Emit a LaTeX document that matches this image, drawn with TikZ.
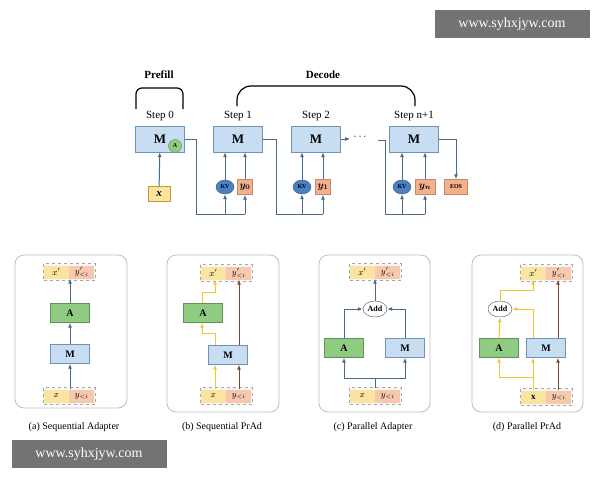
\documentclass[tikz,border=0pt]{standalone}
\usepackage{amsmath,amssymb}
\usepackage{fontspec}
\setmainfont{Liberation Serif}
\usetikzlibrary{arrows.meta,positioning,shapes.geometric}
\definecolor{mblue}{HTML}{C6DDF2}
\definecolor{mbord}{HTML}{6F93B8}
\definecolor{agreen}{HTML}{8FCB80}
\definecolor{ayell}{HTML}{FBE3A0}
\definecolor{asalm}{HTML}{F3B08A}
\definecolor{kvblue}{HTML}{4C80C2}
\definecolor{flowc}{HTML}{4A6A88}
\definecolor{ygold}{HTML}{F2C530}
\definecolor{brwn}{HTML}{7A4636}
\tikzset{
    mbox/.style = {draw=mbord, fill=mblue, minimum width=49pt, minimum height=26pt, font=\fontsize{13}{13}\bfseries},
    sbox/.style = {draw=mbord, fill=mblue, minimum width=39pt, minimum height=19pt, font=\fontsize{10}{10}\bfseries},
    abox/.style = {draw=agreen!70!black, fill=agreen, minimum width=39pt, minimum height=19pt, font=\fontsize{10}{10}\bfseries},
    half/.style = {minimum width=25pt, minimum height=13pt, inner sep=0pt, font=\fontsize{9}{9}\bfseries\itshape},
    tok/.style = {draw=asalm!80!black, fill=asalm, minimum width=15pt, minimum height=15pt, inner sep=0pt, font=\fontsize{10}{10}\bfseries\itshape},
    kv/.style = {ellipse, fill=kvblue, draw=kvblue!70!black, minimum width=18pt, minimum height=14pt, inner sep=0pt, font=\fontsize{6}{6}\bfseries},
    addnode/.style = {ellipse, draw=black!70, fill=white, minimum width=24pt, minimum height=16pt, inner sep=0pt, font=\fontsize{8}{8}\bfseries},
    panel/.style = {draw=black!25, rounded corners=9pt, line width=0.8pt},
    plain/.style = {draw=flowc, line width=1pt},
    flow/.style = {draw=flowc, line width=1pt, -{Latex[length=5pt,width=4pt]}},
    yflow/.style = {draw=ygold, line width=1pt, -{Latex[length=5pt,width=4pt]}},
    bflow/.style = {draw=brwn, line width=1pt, -{Latex[length=5pt,width=4pt]}},
    steplab/.style = {font=\fontsize{11}{11}\selectfont},
    capt/.style = {font=\fontsize{10}{10}\selectfont},
    wmark/.style = {fill=black!55, text=white, minimum width=155pt, minimum height=28pt, font=\fontsize{14}{14}\selectfont}
}
% dashed pair box: name, centre x, centre y, left text, right text
\newcommand{\pairbox}[5]{%
    \draw[black!35, dashed, fill=black!3] (#2-26,#3-8.5) rectangle (#2+26,#3+8.5);
    \node[half, fill=ayell, anchor=east] (#1l) at (#2,#3) {#4};
    \node[half, fill=asalm!70, anchor=west] (#1r) at (#2,#3) {#5};
}
\begin{document}
\begin{tikzpicture}[x=1pt, y=-1pt]
    \useasboundingbox (0,0) rectangle (600,480);
    \fill[white] (0,0) rectangle (600,480);
    
    \node[wmark] (wm1) at (512,24) {www.syhxjyw.com};
    \node[wmark] (wm2) at (89,454) {www.syhxjyw.com};
    
    % top: prefill and decode
    \node[font=\fontsize{11}{11}\bfseries] (prefill) at (159,75) {Prefill};
    \node[font=\fontsize{11}{11}\bfseries] (decode) at (323,75) {Decode};
    \draw[line width=1.2pt, rounded corners=6pt] (136,109) -- (136,88) -- (183,88) -- (183,109);
    \draw[line width=1.2pt, rounded corners=14pt] (237,106) -- (237,86) -- (415,86) -- (415,106);
    
    \node[mbox] (m0) at (160,139) {M\hspace{6pt}};
    \node[mbox] (m1) at (238,139) {M};
    \node[mbox] (m2) at (316,139) {M};
    \node[mbox] (mn) at (414,139) {M};
    \node[circle, fill=agreen, draw=agreen!70!black, minimum size=13pt, inner sep=0pt, font=\fontsize{6}{6}\bfseries] (a0) at (175,146) {A};
    \node[steplab, above=1pt of m0] (s0) {Step 0};
    \node[steplab, above=1pt of m1] (s1) {Step 1};
    \node[steplab, above=1pt of m2] (s2) {Step 2};
    \node[steplab, above=1pt of mn] (sn) {Step n+1};
    
    \node[draw=ygold!80!black, fill=ayell, minimum width=22pt, minimum height=15pt, font=\fontsize{11}{11}\bfseries\itshape] (x0) at (159,194) {x};
    \node[kv] (kv1) at (225,187) {KV};
    \node[tok] (y0) at (245,187) {$\boldsymbol{y_0}$};
    \node[kv] (kv2) at (302,187) {KV};
    \node[tok] (y1) at (323,187) {$\boldsymbol{y_1}$};
    \node[kv] (kvn) at (402,187) {KV};
    \node[tok, minimum width=20pt] (yn) at (425,187) {$\boldsymbol{y_n}$};
    \node[tok, minimum width=23pt, font=\fontsize{6}{6}\bfseries] (eos) at (456,187) {EOS};
    \node[font=\fontsize{11}{11}\selectfont] (dots) at (361,137) {$\cdots$};
    
    \draw[flow] (x0) -- (m0);
    \foreach \k/\t/\m in {kv1/y0/m1, kv2/y1/m2, kvn/yn/mn} {
        \draw[flow] (\k) -- (\k |- \m.south);
        \draw[flow] (\t) -- (\t |- \m.south);
    } %end foreach
    \draw[plain] (m0.east) -- ++(12,0) |- (y0 |- 0,214);
    \draw[plain] (m1.east) -- ++(14,0) |- (y1 |- 0,214);
    \draw[plain] (dots.east) ++(6,3) -- ++(8,0) |- (yn |- 0,214);
    \foreach \k/\t in {kv1/y0, kv2/y1, kvn/yn} {
        \draw[flow] (\k |- 0,214) -- (\k);
        \draw[flow] (\t |- 0,214) -- (\t);
    } %end foreach
    \draw[flow] (m2.east) -- (dots.west |- m2.east);
    \draw[flow] (mn.east) -| (eos.north);
    
    % panels
    \draw[panel] (15,255) rectangle (127,408);
    \draw[panel] (167,255) rectangle (279,412);
    \draw[panel] (319,255) rectangle (430,412);
    \draw[panel] (472,255) rectangle (583,412);
    \node[capt] (ca) at (74,427) {(a) Sequential Adapter};
    \node[capt] (cb) at (222,427) {(b) Sequential PrAd};
    \node[capt] (cc) at (373,427) {(c) Parallel Adapter};
    \node[capt] (cd) at (527,427) {(d) Parallel PrAd};
    
    % (a)
    \pairbox{ta}{69}{272}{$x'$}{$y'_{<i}$}
    \pairbox{ba}{69}{396}{$x$}{$y_{<i}$}
    \node[abox] (aa) at (70,313) {A};
    \node[sbox] (ma) at (70,354) {M};
    \draw[flow] (ma.north) -- (aa.south);
    \draw[flow] (aa.north) -- (aa.north |- tal.south);
    \draw[flow] (ma.south |- bal.north) -- (ma.south);
    
    % (b)
    \pairbox{tb}{226}{273}{$x'$}{$y'_{<i}$}
    \pairbox{bb}{226}{396}{$x$}{$y_{<i}$}
    \node[abox] (ab) at (203,313) {A};
    \node[sbox] (mb) at (228,355) {M};
    \draw[yflow] (bbl.north -| 215,0) -- (mb.south -| 215,0);
    \draw[yflow] (mb.north -| 215,0) |- (202,333) -- (ab.south -| 202,0);
    \draw[yflow] (ab.north -| 202,0) |- (215,292) -- (tbl.south -| 215,0);
    \draw[bflow] (bbr.north -| 239,0) -- (mb.south -| 239,0);
    \draw[bflow] (mb.north -| 239,0) -- (tbr.south -| 239,0);
    
    % (c)
    \pairbox{tc}{375}{272}{$x'$}{$y'_{<i}$}
    \pairbox{bc}{375}{396}{$x$}{$y_{<i}$}
    \node[addnode] (addc) at (375,309) {Add};
    \node[abox] (ac) at (344,348) {A};
    \node[sbox] (mc) at (405,348) {M};
    \draw[plain] (375,387.5) -- (375,378);
    \draw[flow] (375,378) -| (ac.south);
    \draw[flow] (375,378) -| (mc.south);
    \draw[flow] (ac.north) |- (addc.west);
    \draw[flow] (mc.north) |- (addc.east);
    \draw[flow] (addc.north) -- (addc.north |- tcl.south);
    
    % (d)
    \pairbox{td}{546}{273}{$x'$}{$y'_{<i}$}
    \pairbox{bd}{546}{397}{$\mathbf{x}$}{$y_{<i}$}
    \node[addnode] (addd) at (500,309) {Add};
    \node[abox] (ad) at (499,348) {A};
    \node[sbox] (md) at (546,348) {M};
    \draw[yflow] (bdl.north -| 533,0) -- (md.south -| 533,0);
    \draw[yflow] (533,377) -| (ad.south);
    \draw[yflow] (ad.north) -- (addd.south);
    \draw[yflow] (md.north -| 533,0) |- (addd.east);
    \draw[yflow] (addd.north) |- (533,290) -- (tdl.south -| 533,0);
    \draw[bflow] (bdr.north -| 558,0) -- (md.south -| 558,0);
    \draw[bflow] (md.north -| 558,0) -- (tdr.south -| 558,0);
\end{tikzpicture}
\end{document}
